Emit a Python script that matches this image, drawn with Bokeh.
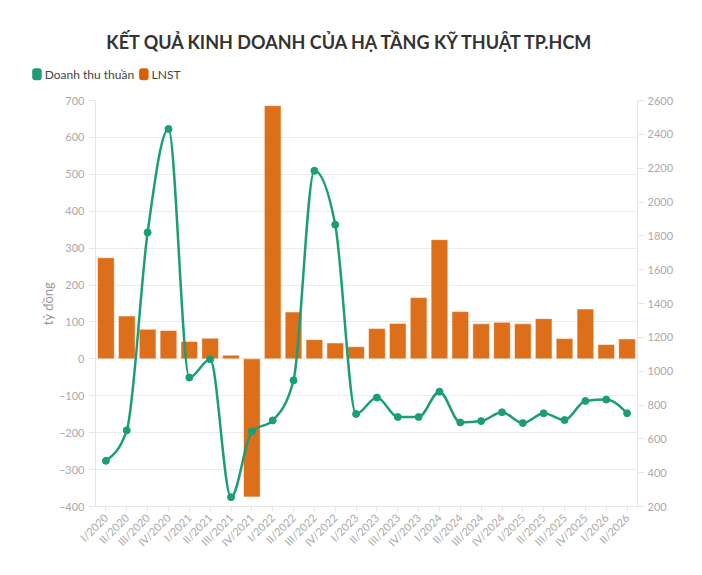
import math
from bokeh.plotting import figure
from bokeh.layouts import column
from bokeh.models import Range1d, LinearAxis, FixedTicker, Label
from bokeh.core.properties import value
from bokeh.embed import file_html
from bokeh.resources import INLINE

quarters = ["I/2020", "II/2020", "III/2020", "IV/2020", "I/2021", "II/2021", "III/2021", "IV/2021",
            "I/2022", "II/2022", "III/2022", "IV/2022", "I/2023", "II/2023", "III/2023", "IV/2023",
            "I/2024", "II/2024", "III/2024", "IV/2024", "I/2025", "II/2025", "III/2025", "IV/2025",
            "I/2026", "II/2026"]
revenue = [470, 650, 1820, 2432, 962, 1070, 255, 644, 709, 946, 2185, 1866, 747, 844,
           729, 729, 879, 697, 705, 757, 693, 751, 711, 824, 832, 751]
profit = [274, 116, 80, 77, 47, 56, 10, -374, 686, 127, 52, 43, 33, 82,
          96, 166, 323, 128, 95, 99, 95, 109, 55, 135, 39, 54]
left_ticks = list(range(-400, 701, 100))
right_ticks = list(range(200, 2601, 200))
legend_labels = ["Doanh thu thuần", "LNST"]

GREEN = "#1b9e77"
ORANGE = "#d95f02"
TICK_COLOR = "#aaaaaa"
FONT = "Lato"
W = 686
HEAD_H = 92
MAIN_H = 467

n = len(quarters)
xs = [i + 0.5 for i in range(n)]

# ---------- header figure: title + legend ----------
head = figure(width=W, height=HEAD_H, x_range=Range1d(0, W), y_range=Range1d(0, HEAD_H),
              output_backend="svg", toolbar_location=None,
              min_border_left=0, min_border_right=0, min_border_top=0, min_border_bottom=0)
head.frame_align = False
head.axis.visible = False
head.grid.visible = False
head.outline_line_color = None
head.background_fill_color = "white"
head.border_fill_color = "white"

title = Label(x=351, y=HEAD_H - 41, x_units="data", y_units="data",
              text="KẾT QUẢ KINH DOANH CỦA HẠ TẦNG KỸ THUẬT TP.HCM",
              text_align="center", text_baseline="middle", text_font=FONT,
              text_font_size="18px", text_font_style="bold", text_color="#333333")
head.add_layout(title)

# legend (swatches + labels), positioned in header pixel space
sw_left = [31.7, 138.6]
head.quad(left=sw_left, right=[v + 9.5 for v in sw_left],
          bottom=[HEAD_H - 79.7] * 2, top=[HEAD_H - 67.7] * 2,
          fill_color=[GREEN, ORANGE], line_color=None, border_radius=3)
head.text(x=[v + 12.5 for v in sw_left], y=[HEAD_H - 73.7] * 2, text=legend_labels,
          text_font=value(FONT), text_font_size="12px", text_color="#444444",
          text_baseline="middle", text_align="left")

# ---------- main chart ----------
p = figure(width=W, height=MAIN_H, x_range=Range1d(0, n), y_range=Range1d(-400, 700),
           output_backend="svg", toolbar_location=None,
           min_border_left=95, min_border_right=W - 637, min_border_top=8, min_border_bottom=53)
p.frame_align = False
p.extra_y_ranges = {"rev": Range1d(200, 2600)}
p.outline_line_color = None
p.background_fill_color = "white"
p.border_fill_color = "white"

# bars (LNST, left axis)
p.vbar(x=xs, top=profit, bottom=0, width=0.8, fill_color=ORANGE, fill_alpha=0.9,
       line_color="white", line_alpha=0.5, line_width=1)

# smooth monotone curve for revenue (right axis)
def sgn(v):
    return (v > 0) - (v < 0)

ys = revenue
t = [0.0] * n
for i in range(1, n - 1):
    h0 = xs[i] - xs[i - 1]
    h1 = xs[i + 1] - xs[i]
    s0 = (ys[i] - ys[i - 1]) / h0
    s1 = (ys[i + 1] - ys[i]) / h1
    pp = (s0 * h1 + s1 * h0) / (h0 + h1)
    t[i] = (sgn(s0) + sgn(s1)) * min(abs(s0), abs(s1), 0.5 * abs(pp))
t[0] = (3 * (ys[1] - ys[0]) / (xs[1] - xs[0]) - t[1]) / 2
t[-1] = (3 * (ys[-1] - ys[-2]) / (xs[-1] - xs[-2]) - t[-2]) / 2

bx0, by0, bx1, by1, cx0, cy0, cx1, cy1 = [], [], [], [], [], [], [], []
for i in range(n - 1):
    dx = (xs[i + 1] - xs[i]) / 3
    bx0.append(xs[i]); by0.append(ys[i])
    bx1.append(xs[i + 1]); by1.append(ys[i + 1])
    cx0.append(xs[i] + dx); cy0.append(ys[i] + dx * t[i])
    cx1.append(xs[i + 1] - dx); cy1.append(ys[i + 1] - dx * t[i + 1])

p.bezier(x0=bx0, y0=by0, x1=bx1, y1=by1, cx0=cx0, cy0=cy0, cx1=cx1, cy1=cy1,
         line_color=GREEN, line_width=2.5, y_range_name="rev")
p.scatter(x=xs, y=revenue, size=7, fill_color=GREEN, line_color=GREEN, y_range_name="rev")

# axes
p.xgrid.visible = False
p.ygrid.ticker = FixedTicker(ticks=left_ticks)
p.ygrid.grid_line_color = "#ebebeb"

xa = p.xaxis[0]
xa.ticker = FixedTicker(ticks=xs)
xa.major_label_overrides = {x: q for x, q in zip(xs, quarters)}
xa.major_label_orientation = math.pi / 4
xa.axis_line_color = "#e6e6e6"
xa.major_tick_line_color = "#e6e6e6"
xa.major_tick_out = 5
xa.major_tick_in = 0
xa.minor_tick_line_color = None
xa.major_label_text_color = TICK_COLOR
xa.major_label_text_font = FONT
xa.major_label_text_font_size = "11px"
xa.major_label_standoff = 4

ya = p.yaxis[0]
ya.ticker = FixedTicker(ticks=left_ticks)
ya.axis_line_color = "#e6e6e6"
ya.major_tick_line_color = "#e6e6e6"
ya.major_tick_out = 7
ya.major_tick_in = 0
ya.minor_tick_line_color = None
ya.major_label_text_color = TICK_COLOR
ya.major_label_text_font = FONT
ya.major_label_text_font_size = "11px"
ya.major_label_standoff = 4
ya.axis_label = "tỷ đồng"
ya.axis_label_text_font = FONT
ya.axis_label_text_font_style = "normal"
ya.axis_label_text_font_size = "13px"
ya.axis_label_text_color = "#999999"
ya.axis_label_standoff = 0

ra = LinearAxis(y_range_name="rev", ticker=FixedTicker(ticks=right_ticks))
ra.axis_line_color = "#e6e6e6"
ra.major_tick_line_color = "#e6e6e6"
ra.major_tick_out = 7
ra.major_tick_in = 0
ra.minor_tick_line_color = None
ra.major_label_text_color = TICK_COLOR
ra.major_label_text_font = FONT
ra.major_label_text_font_size = "11px"
ra.major_label_standoff = 3
p.add_layout(ra, "right")

layout = column(head, p, spacing=0)
open("out.html", "w").write(file_html(layout, INLINE))
